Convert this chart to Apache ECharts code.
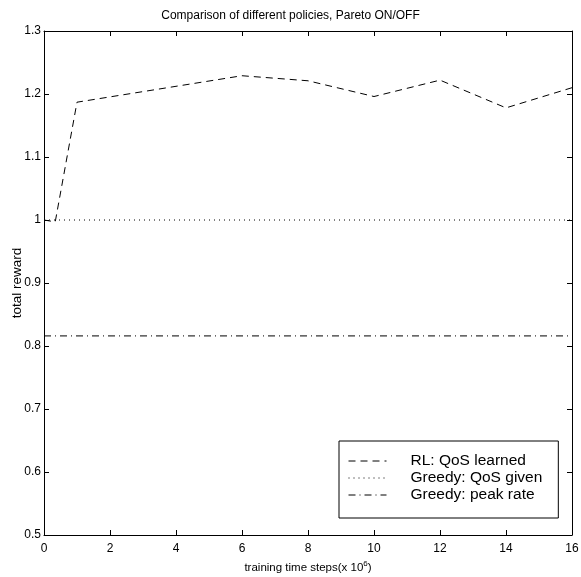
<!DOCTYPE html>
<html>
<head>
<meta charset="utf-8">
<script src="https://cdn.jsdelivr.net/npm/echarts@6/dist/echarts.min.js"></script>
<style>html,body{margin:0;padding:0;background:#fff}#c{width:581px;height:577px}</style>
</head>
<body>
<div id="c"></div>
<script>
var rlX = [0, 0.34, 1, 6, 8, 10, 12, 14, 16];
var rlY = [1.0, 0.997, 1.187, 1.229, 1.221, 1.196, 1.222, 1.178, 1.21];
var qosX = [0, 16];
var qosY = [1.0, 1.0];
var peakX = [0, 16];
var peakY = [0.816, 0.816];
var seriesNames = ['RL: QoS learned', 'Greedy: QoS given', 'Greedy: peak rate'];
var titleText = 'Comparison of different policies, Pareto ON/OFF';

function pairs(xs, ys) { return xs.map(function (x, i) { return [x, ys[i]]; }); }

var REG = "'Liberation Sans', Arial, Helvetica, sans-serif";

var chart = echarts.init(document.getElementById('c'), null, {renderer: 'canvas'});
var axisCommon = {
  axisLine: {show: true, onZero: false, lineStyle: {color: '#000', width: 1}},
  axisTick: {show: true, inside: true, length: 5, lineStyle: {color: '#000', width: 1}},
  splitLine: {show: false}
};
chart.setOption({
  animation: false,
  backgroundColor: '#fff',
  title: {
    text: titleText, left: 'center', top: 5,
    textStyle: {fontFamily: REG, fontSize: 12, fontWeight: 'normal', color: '#000'}
  },
  grid: {left: 44, right: 9, top: 31, bottom: 42, containLabel: false, outerBoundsMode: 'none'},
  legend: {
    orient: 'vertical', left: 339, top: 441,
    padding: [12, 16, 15, 9], itemGap: 1, itemWidth: 38, itemHeight: 14,
    borderColor: '#000', borderWidth: 1, backgroundColor: '#fff',
    itemStyle: {color: 'rgba(0,0,0,0)', borderWidth: 0, opacity: 0},
    lineStyle: {width: 1, color: '#000'},
    textStyle: {fontFamily: REG, fontSize: 15.5, lineHeight: 16, color: '#000', padding: [0, 0, 0, 19]},
    data: seriesNames
  },
  xAxis: [
    Object.assign({
      type: 'value', min: 0, max: 16, interval: 2, position: 'bottom',
      axisLabel: {color: '#000', fontFamily: REG, fontSize: 12, margin: 8},
      name: '{a|training time steps(x 10}{s|6}{a|)}', nameLocation: 'middle', nameGap: 25,
      nameMoveOverlap: false,
      nameTextStyle: {rich: {
        a: {fontFamily: REG, fontSize: 11.5, color: '#000'},
        s: {fontFamily: REG, fontSize: 8, color: '#000', verticalAlign: 'bottom', padding: [0, 0, 8, 0]}
      }}
    }, axisCommon),
    Object.assign({
      type: 'value', min: 0, max: 16, interval: 2, position: 'top',
      axisLabel: {show: false}
    }, axisCommon)
  ],
  yAxis: [
    Object.assign({
      type: 'value', min: 0.5, max: 1.3, interval: 0.1, position: 'left',
      axisLabel: {color: '#000', fontFamily: REG, fontSize: 12, margin: 3,
        formatter: function (v) { return String(Math.round(v * 10) / 10); }},
      name: 'total reward', nameLocation: 'middle', nameGap: 20, nameRotate: 90,
      nameMoveOverlap: false,
      nameTextStyle: {fontFamily: REG, fontSize: 13.5, color: '#000'}
    }, axisCommon),
    Object.assign({
      type: 'value', min: 0.5, max: 1.3, interval: 0.1, position: 'right',
      axisLabel: {show: false}
    }, axisCommon)
  ],
  series: [
    {name: seriesNames[0], type: 'line', data: pairs(rlX, rlY), symbol: 'none',
     lineStyle: {color: '#000', width: 1, type: [7, 5]}, itemStyle: {color: '#000'}},
    {name: seriesNames[1], type: 'line', data: pairs(qosX, qosY), symbol: 'none',
     lineStyle: {color: '#000', width: 1, type: [1, 4]}, itemStyle: {color: '#000'}},
    {name: seriesNames[2], type: 'line', data: pairs(peakX, peakY), symbol: 'none',
     lineStyle: {color: '#000', width: 1, type: [7, 4, 1, 4]}, itemStyle: {color: '#000'}}
  ]
});
</script>
</body>
</html>
